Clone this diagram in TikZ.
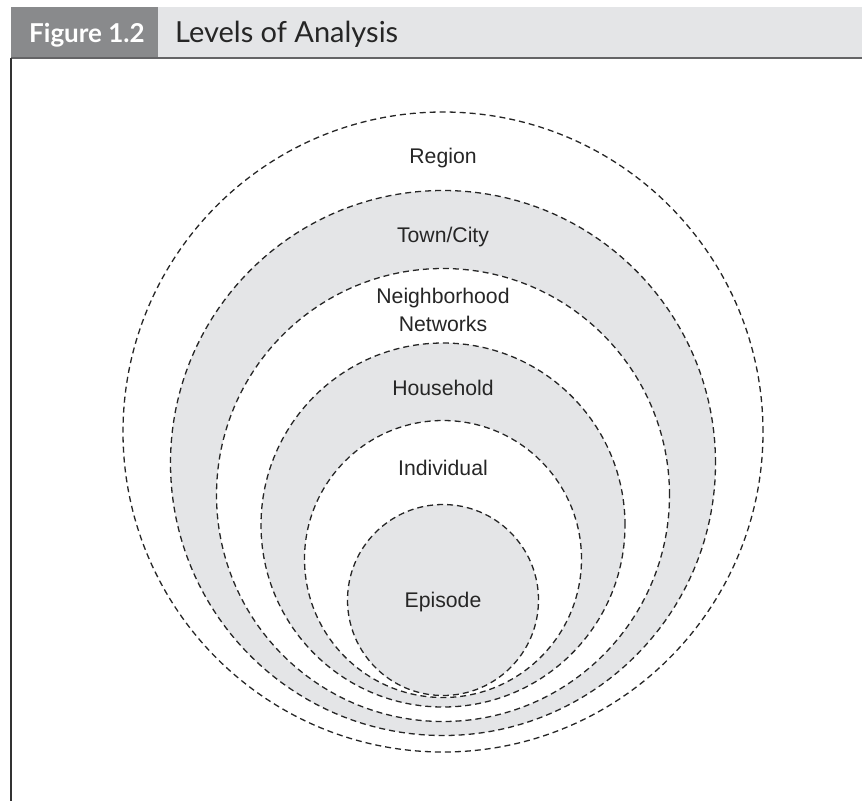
\documentclass[tikz,border=0pt]{standalone}
\usepackage{fontspec}
\setmainfont{Liberation Sans}
\newfontfamily\headfont{Lato}
\definecolor{ringgray}{RGB}{228,229,231}
\definecolor{headdark}{RGB}{137,138,140}
\definecolor{rulegray}{RGB}{100,100,102}

\begin{document}
\begin{tikzpicture}[x=1pt,y=-1pt,
        ring/.style={circle,draw=black!85,dash pattern=on 6pt off 4pt,line width=1.3pt,inner sep=0pt},
        level/.style={anchor=base,align=center,text=black!85,font=\fontsize{21.2}{28}\selectfont}]

        \useasboundingbox (0,0) rectangle (862,801);

        % title bar
        \fill[headdark] (11,7) rectangle (158,57);
        \fill[ringgray] (158,7) rectangle (862,57);
        \draw[rulegray,line width=1.5pt] (11,58) -- (862,58);
        \draw[black!80,line width=1.5pt] (11,58) -- (11,801);
        \node[anchor=base west,inner sep=0pt,text=white,font=\headfont\bfseries\fontsize{26}{30}\selectfont] (fig) at (29,42) {Figure 1.2};
        \node[anchor=base west,inner sep=0pt,text=black!85,font=\headfont\fontsize{29}{32}\selectfont] (title) at (175,42) {Levels of Analysis};

        % nested levels, outside in
        \node[ring,fill=white,minimum size=640pt] (region) at (443,432) {};
        \node[ring,fill=ringgray,minimum size=545pt] (town) at (443,463) {};
        \node[ring,fill=white,minimum size=453pt] (hood) at (443,495) {};
        \node[ring,fill=ringgray,minimum size=364pt] (house) at (443,525) {};
        \node[ring,fill=white,minimum size=277pt] (indiv) at (443,559) {};
        \node[ring,fill=ringgray,minimum size=191pt] (episode) at (443,600) {};

        \node[level] (regionlbl) at (443,163) {Region};
        \node[level] (townlbl) at (443,242) {Town/City};
        \node[level] (hoodlbl) at (443,331) {Neighborhood\\Networks};
        \node[level] (houselbl) at (443,395) {Household};
        \node[level] (indivlbl) at (443,475) {Individual};
        \node[level] (episodelbl) at (443,607) {Episode};
\end{tikzpicture}
\end{document}
